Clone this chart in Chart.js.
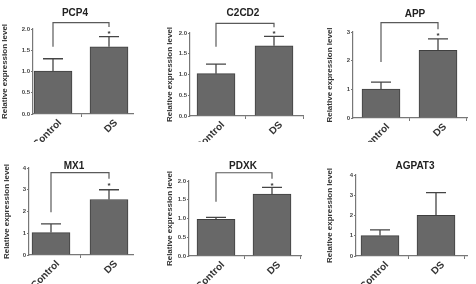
<!DOCTYPE html>
<html>
<head>
<meta charset="utf-8">
<script src="https://cdn.jsdelivr.net/npm/chart.js@4.4.1/dist/chart.umd.min.js"></script>
<style>
  html, body { margin: 0; padding: 0; background: #fff; }
  body { width: 476px; height: 284px; position: relative; overflow: hidden; }
  .panel { position: absolute; height: 142px; }
</style>
</head>
<body>
<script>
// values (mean and upper error)
const genes = ['PCP4', 'C2CD2', 'APP', 'MX1', 'PDXK', 'AGPAT3'];
const groups = ['Control', 'DS'];
const controlMean = [1.01, 1.02, 1.01, 1.03, 0.98, 1.01];
const controlErr = [0.29, 0.23, 0.24, 0.40, 0.05, 0.28];
const dsMean = [1.58, 1.69, 2.36, 2.55, 1.65, 2.01];
const dsErr = [0.24, 0.23, 0.40, 0.45, 0.18, 1.12];
const yMax = [2, 2, 3, 4, 2, 4];
const yStep = [0.5, 0.5, 1, 1, 0.5, 1];

// significance brackets (null = none)
const sigTop = [2.15, 2.23, 3.33, 3.79, 2.22, null];
const sigLeft = [1.58, 1.67, 1.95, 1.97, 1.45, null];
const sigRight = [2.05, 2.14, 3.10, 3.51, 2.06, null];

// page layout of each small panel (pixels)
const panels = [
  { x: 0,   y: 0,   w: 158, l: 33,  t: 29,  r: 133, b: 114, t0: 53,  t1: 109, tx: 75,  ty: 13 },
  { x: 165, y: 0,   w: 150, l: 190, t: 33,  r: 303, b: 116, t0: 216, t1: 274, tx: 243, ty: 13 },
  { x: 325, y: 0,   w: 151, l: 353, t: 32,  r: 467, b: 118, t0: 381, t1: 438, tx: 415, ty: 14 },
  { x: 2,   y: 142, w: 156, l: 29,  t: 168, r: 133, b: 255, t0: 51,  t1: 109, tx: 74,  ty: 166 },
  { x: 165, y: 142, w: 150, l: 189, t: 181, r: 301, b: 256, t0: 216, t1: 272, tx: 243, ty: 166 },
  { x: 325, y: 142, w: 151, l: 356, t: 175, r: 467, b: 256, t0: 380, t1: 436, tx: 415, ty: 166 }
];

const FONT = 'Arial, "Liberation Sans", sans-serif';
const INK = '#333333';

// error bars, significance bracket and panel title
const marksPlugin = {
  id: 'marks',
  afterDraw(chart, args, opts) {
    const ctx = chart.ctx;
    const xs = chart.scales.x;
    const ys = chart.scales.y;
    const i = opts.index;
    const means = [controlMean[i], dsMean[i]];
    const errs = [controlErr[i], dsErr[i]];
    ctx.save();
    ctx.strokeStyle = '#454545';
    ctx.lineWidth = 1.3;
    means.forEach((m, k) => {
      const px = xs.getPixelForValue(k);
      const y0 = ys.getPixelForValue(m);
      const y1 = ys.getPixelForValue(m + errs[k]);
      ctx.beginPath();
      ctx.moveTo(px, y0);
      ctx.lineTo(px, y1);
      ctx.moveTo(px - 10, y1);
      ctx.lineTo(px + 10, y1);
      ctx.stroke();
    });

    if (sigTop[i] !== null) {
      const xa = xs.getPixelForValue(0);
      const xb = xs.getPixelForValue(1);
      const yt = ys.getPixelForValue(sigTop[i]);
      const yl = ys.getPixelForValue(sigLeft[i]);
      const yr = ys.getPixelForValue(sigRight[i]);
      ctx.strokeStyle = '#5a5a5a';
      ctx.lineWidth = 1.2;
      ctx.beginPath();
      ctx.moveTo(xa, yl);
      ctx.lineTo(xa, yt);
      ctx.lineTo(xb, yt);
      ctx.lineTo(xb, yr);
      ctx.stroke();
      ctx.fillStyle = INK;
      ctx.font = 'bold 8px ' + FONT;
      ctx.textAlign = 'center';
      ctx.textBaseline = 'middle';
      ctx.fillText('*', xb, yr + 7);
    }

    const p = panels[i];
    ctx.fillStyle = '#222';
    ctx.font = 'bold 10px ' + FONT;
    ctx.textAlign = 'center';
    ctx.textBaseline = 'middle';
    ctx.fillText(genes[i], p.tx - p.x, p.ty - p.y);
    ctx.restore();
  }
};

genes.forEach((gene, i) => {
  const p = panels[i];
  const div = document.createElement('div');
  div.className = 'panel';
  div.style.left = p.x + 'px';
  div.style.top = p.y + 'px';
  div.style.width = p.w + 'px';
  const canvas = document.createElement('canvas');
  div.appendChild(canvas);
  document.body.appendChild(div);

  const sp = p.t1 - p.t0;

  new Chart(canvas, {
    type: 'bar',
    data: {
      labels: groups,
      datasets: [{
        data: [{ x: 0, y: controlMean[i] }, { x: 1, y: dsMean[i] }],
        backgroundColor: '#686868',
        borderColor: '#3f3f3f',
        borderWidth: 1,
        barThickness: 38
      }]
    },
    options: {
      responsive: true,
      maintainAspectRatio: false,
      animation: false,
      layout: {
        padding: { top: p.t - p.y, right: p.x + p.w - p.r, left: 0, bottom: 0 }
      },
      plugins: {
        legend: { display: false },
        tooltip: { enabled: false },
        marks: { index: i }
      },
      scales: {
        x: {
          type: 'linear',
          offset: false,
          bounds: 'data',
          min: -(p.t0 - p.l) / sp,
          max: 1 + (p.r - p.t1) / sp,
          afterBuildTicks: axis => { axis.ticks = [{ value: 0 }, { value: 1 }]; },
          afterFit: scale => { scale.height = p.y + 142 - p.b; },
          grid: { drawOnChartArea: false, drawTicks: true, tickLength: 3, color: '#777' },
          border: { display: true, color: '#777', width: 1.2 },
          ticks: {
            autoSkip: false,
            maxRotation: 45,
            minRotation: 45,
            padding: 0,
            labelOffset: 7,
            color: INK,
            font: { family: FONT, size: 10, weight: 'bold' },
            callback: v => groups[v]
          }
        },
        y: {
          min: 0,
          max: yMax[i],
          afterFit: scale => { scale.width = p.l - p.x; },
          grid: { drawOnChartArea: false, drawTicks: true, tickLength: 2, color: '#777' },
          border: { display: true, color: '#777', width: 1.2 },
          ticks: {
            stepSize: yStep[i],
            padding: 1,
            color: '#444',
            font: { family: FONT, size: 6, weight: 'bold' },
            callback: v => yStep[i] < 1 ? v.toFixed(1) : String(v)
          },
          title: {
            display: true,
            text: 'Relative expression level',
            color: INK,
            padding: { top: 0, bottom: 2 },
            font: { family: FONT, size: 8, weight: 'bold' }
          }
        }
      }
    },
    plugins: [marksPlugin]
  });
});
</script>
</body>
</html>
